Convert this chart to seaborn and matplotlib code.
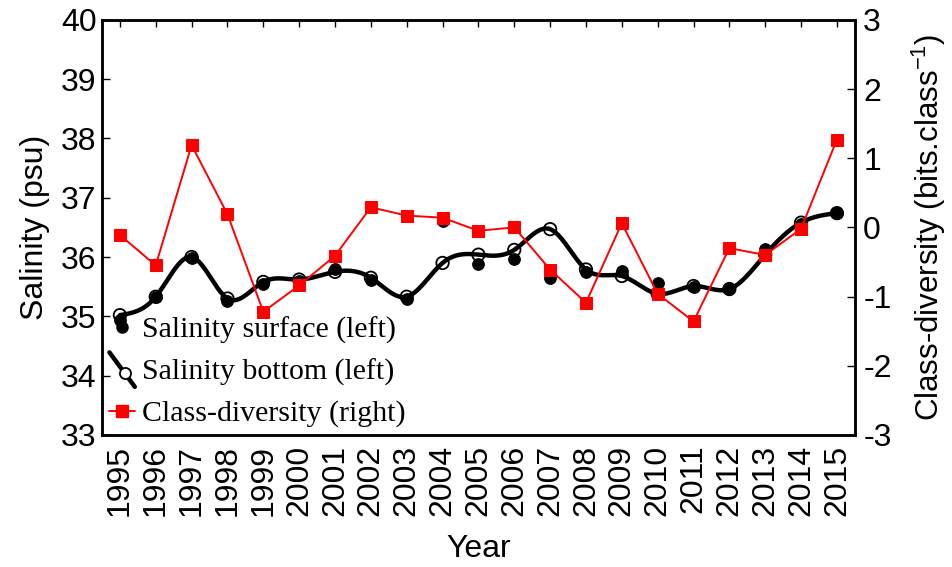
import numpy as np
import pandas as pd
import matplotlib
matplotlib.use("Agg")
import matplotlib.pyplot as plt
import seaborn as sns
from matplotlib.lines import Line2D
from matplotlib.legend_handler import HandlerBase

years = list(range(1995, 2016))
salinity_surface = [34.93, 35.32, 35.98, 35.25, 35.55, 35.60, 35.80, 35.62, 35.30, 36.61,
                    35.89, 35.97, 35.65, 35.75, 35.76, 35.57, 35.50, 35.46, 36.13, 36.55, 36.74]
salinity_bottom = [35.02, 35.33, 36.00, 35.30, 35.58, 35.62, 35.75, 35.65, 35.33, 35.90,
                   36.04, 36.12, 36.47, 35.79, 35.68, 35.38, 35.51, 35.46, 36.04, 36.58, 36.74]
class_diversity = [-0.11, -0.55, 1.19, 0.19, -1.22, -0.84, -0.41, 0.29, 0.17, 0.14,
                   -0.05, 0.00, -0.61, -1.09, 0.06, -0.96, -1.36, -0.30, -0.40, -0.02, 1.27]
left_ticks = [33, 34, 35, 36, 37, 38, 39, 40]
right_ticks = [-3, -2, -1, 0, 1, 2, 3]

sns.set_theme(style="white")
plt.rcParams['font.family'] = ['Liberation Sans', 'DejaVu Sans']
plt.rcParams['mathtext.fontset'] = 'custom'
plt.rcParams['mathtext.rm'] = 'Liberation Sans'
plt.rcParams['mathtext.it'] = 'Liberation Sans:italic'
plt.rcParams['text.color'] = 'black'
plt.rcParams['axes.labelcolor'] = 'black'
plt.rcParams['xtick.color'] = 'black'
plt.rcParams['ytick.color'] = 'black'


def natural_spline(x, y, xs):
    x = np.asarray(x, float)
    y = np.asarray(y, float)
    n = len(x)
    h = np.diff(x)
    A = np.zeros((n, n))
    r = np.zeros(n)
    A[0, 0] = 1
    A[-1, -1] = 1
    for i in range(1, n - 1):
        A[i, i - 1] = h[i - 1]
        A[i, i] = 2 * (h[i - 1] + h[i])
        A[i, i + 1] = h[i]
        r[i] = 3 * ((y[i + 1] - y[i]) / h[i] - (y[i] - y[i - 1]) / h[i - 1])
    c = np.linalg.solve(A, r)
    b = (y[1:] - y[:-1]) / h - h * (2 * c[:-1] + c[1:]) / 3
    d = (c[1:] - c[:-1]) / (3 * h)
    idx = np.clip(np.searchsorted(x, xs) - 1, 0, n - 2)
    dx = xs - x[idx]
    return y[idx] + b[idx] * dx + c[idx] * dx ** 2 + d[idx] * dx ** 3


df = pd.DataFrame({"Year": years, "surface": salinity_surface,
                   "bottom": salinity_bottom, "div": class_diversity})

fig = plt.figure(figsize=(9.53, 5.67), dpi=100)
ax = fig.add_axes([0.107, 0.233, 0.790, 0.732])
ax2 = ax.twinx()

xs = np.linspace(years[0], years[-1], 600)
spl = pd.DataFrame({"Year": xs, "val": natural_spline(years, salinity_bottom, xs)})
sns.lineplot(data=spl, x="Year", y="val", ax=ax, color="black", lw=3.2,
             estimator=None, sort=False, zorder=2)
sns.scatterplot(data=df, x="Year", y="surface", ax=ax, color="black", s=70,
                marker="o", edgecolor="black", linewidth=0.8, zorder=3)
sns.scatterplot(data=df, x="Year", y="bottom", ax=ax, s=80, marker="o",
                facecolor="none", edgecolor="black", linewidth=1.3, zorder=4)

sns.lineplot(data=df, x="Year", y="div", ax=ax2, color="#ff0000", lw=1.4,
             marker="s", markersize=9, markeredgecolor="#ff0000", zorder=5)

ax.set_xlim(1994.5, 2015.5)
ax.set_ylim(33, 40)
ax2.set_ylim(-3, 3)
ax.set_yticks(left_ticks)
ax2.set_yticks(right_ticks)
ax.set_xticks(years)
ax.set_xticklabels([str(y) for y in years], rotation=90)
ax.set_yticklabels([str(t) for t in left_ticks])
ax2.set_yticklabels([str(t) for t in right_ticks])

ax.tick_params(axis='x', direction='in', length=5, width=1.0, top=True,
               labelsize=23, pad=7, colors='black')
ax.tick_params(axis='y', direction='in', length=6, width=1.0, labelsize=23, pad=4)
ax2.tick_params(axis='y', direction='in', length=6, width=1.0, labelsize=23, pad=6)

for a in (ax, ax2):
    for s in a.spines.values():
        s.set_visible(True)
        s.set_color('black')
        s.set_linewidth(1.8)

ax.set_xlabel("Year", fontsize=23, labelpad=13)
ax.set_ylabel("Salinity (psu)", fontsize=23, labelpad=8)
ax2.set_ylabel("Class-diversity (bits.class$^{\\mathrm{-1}}$)", fontsize=22.5, labelpad=13)
ax.grid(False)
ax2.grid(False)


class DiagHandler(HandlerBase):
    def create_artists(self, legend, orig, xd, yd, width, height, fontsize, trans):
        l = Line2D([xd + 0.0 * width, xd + 1.0 * width],
                   [yd + 1.3 * height, yd - 0.35 * height],
                   color='black', lw=3.2, transform=trans)
        m = Line2D([xd + 0.6 * width], [yd + 0.3 * height], marker='o', markersize=8,
                   markerfacecolor='white', markeredgecolor='black', markeredgewidth=1.3,
                   linestyle='none', transform=trans)
        return [l, m]


h_surf = Line2D([], [], color='black', marker='o', markersize=8, linestyle='none')
h_bot = Line2D([], [], color='black')
h_div = Line2D([], [], color='#ff0000', lw=1.4, marker='s', markersize=9)
leg = ax2.legend([h_surf, h_bot, h_div],
                 ["Salinity surface (left)", "Salinity bottom (left)", "Class-diversity (right)"],
                 handler_map={h_bot: DiagHandler()},
                 loc='lower left', bbox_to_anchor=(0.0, 0.0), frameon=False,
                 borderaxespad=0.0,
                 prop={'family': 'Liberation Serif', 'size': 21.5},
                 handlelength=0.85, handletextpad=0.25, labelspacing=0.48,
                 borderpad=0.25)

fig.savefig("out.png", dpi=100)
